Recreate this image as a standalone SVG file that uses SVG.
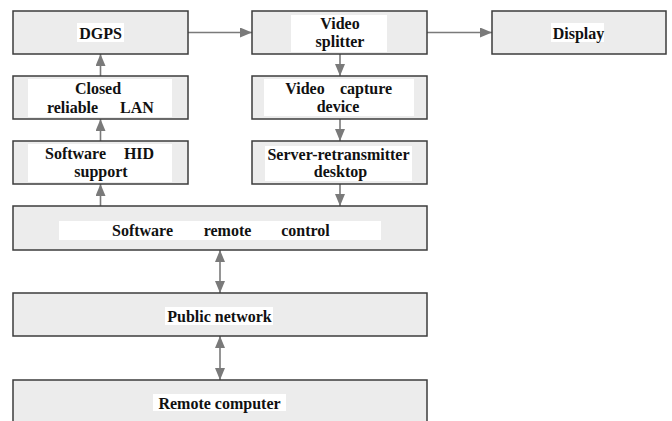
<svg xmlns="http://www.w3.org/2000/svg" width="672" height="421" viewBox="0 0 672 421">
<style>
.box{fill:#ececec;stroke:#3c3c3c;stroke-width:1.5}
.bg{fill:#ffffff}
.t{font-family:'Liberation Serif','DejaVu Serif',serif;font-weight:bold;font-size:16px;fill:#111;text-anchor:middle}
.c{stroke:#7a7a7a;stroke-width:1.6;fill:none}
</style>
<defs>
<marker id="ah" viewBox="0 0 12 10" refX="12" refY="5" markerWidth="12" markerHeight="10" markerUnits="userSpaceOnUse" orient="auto-start-reverse">
<path d="M0,0 L12,5 L0,10 Z" fill="#7a7a7a"/>
</marker>
</defs>
<rect width="672" height="421" fill="#ffffff"/>
<g id="connectors">
<line class="c" x1="188" y1="32.5" x2="252" y2="32.5" marker-end="url(#ah)"/>
<line class="c" x1="427" y1="32.5" x2="492" y2="32.5" marker-end="url(#ah)"/>
<line class="c" x1="340" y1="54" x2="340" y2="76" marker-end="url(#ah)"/>
<line class="c" x1="340" y1="119" x2="340" y2="141" marker-end="url(#ah)"/>
<line class="c" x1="340" y1="184" x2="340" y2="206" marker-end="url(#ah)"/>
<line class="c" x1="100.5" y1="206" x2="100.5" y2="184" marker-end="url(#ah)"/>
<line class="c" x1="100.5" y1="141" x2="100.5" y2="119" marker-end="url(#ah)"/>
<line class="c" x1="100.5" y1="76" x2="100.5" y2="54" marker-end="url(#ah)"/>
<line class="c" x1="220" y1="250" x2="220" y2="293" marker-start="url(#ah)" marker-end="url(#ah)"/>
<line class="c" x1="220" y1="336" x2="220" y2="380" marker-start="url(#ah)" marker-end="url(#ah)"/>
</g>
<g id="dgps">
<rect class="box" x="13" y="11" width="175" height="43"/>
<rect class="bg" x="77" y="23" width="47" height="19"/>
<text class="t" x="100.5" y="38.5">DGPS</text>
</g>
<g id="lan">
<rect class="box" x="13" y="76" width="175" height="43"/>
<rect class="bg" x="28" y="79" width="144" height="38"/>
<text class="t" x="98" y="94">Closed</text>
<text class="t" x="72.5" y="113">reliable</text>
<text class="t" x="137" y="113">LAN</text>
</g>
<g id="hid">
<rect class="box" x="13" y="141" width="175" height="43"/>
<rect class="bg" x="28" y="144" width="144" height="38"/>
<text class="t" x="75.5" y="159">Software</text>
<text class="t" x="139" y="159">HID</text>
<text class="t" x="101" y="177">support</text>
</g>
<g id="splitter">
<rect class="box" x="252" y="11" width="175" height="43"/>
<rect class="bg" x="291" y="15" width="96" height="37"/>
<text class="t" x="340" y="29">Video</text>
<text class="t" x="340" y="47">splitter</text>
</g>
<g id="capture">
<rect class="box" x="252" y="76" width="175" height="43"/>
<rect class="bg" x="264" y="79" width="150" height="37"/>
<text class="t" x="305" y="94">Video</text>
<text class="t" x="366" y="94">capture</text>
<text class="t" x="338" y="112">device</text>
</g>
<g id="server">
<rect class="box" x="252" y="141" width="175" height="43"/>
<rect class="bg" x="265" y="146" width="147" height="35"/>
<text class="t" x="338.5" y="160">Server-retransmitter</text>
<text class="t" x="340.5" y="177">desktop</text>
</g>
<g id="display">
<rect class="box" x="492" y="11" width="174" height="43"/>
<rect class="bg" x="551" y="23" width="53" height="19"/>
<text class="t" x="578.5" y="38.5">Display</text>
</g>
<g id="remote-control">
<rect class="box" x="13" y="206" width="414" height="44"/>
<rect class="bg" x="59" y="221" width="322" height="19"/>
<text class="t" x="142.5" y="236">Software</text>
<text class="t" x="227.5" y="236">remote</text>
<text class="t" x="305.5" y="236">control</text>
</g>
<g id="public-network">
<rect class="box" x="13" y="293" width="414" height="43"/>
<rect class="bg" x="165" y="307" width="108" height="18"/>
<text class="t" x="219.5" y="321.5">Public network</text>
</g>
<g id="remote-computer">
<rect class="box" x="13" y="380" width="414" height="50"/>
<rect class="bg" x="153" y="394" width="133" height="17"/>
<text class="t" x="219.5" y="408.5">Remote computer</text>
</g>
</svg>
